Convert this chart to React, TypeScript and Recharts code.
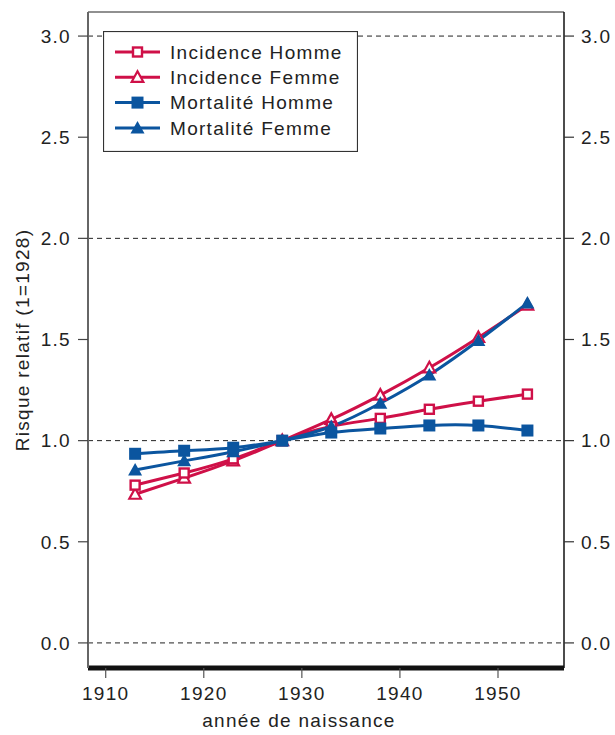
import React from "react";
import { LineChart, Line, XAxis, YAxis, ReferenceLine } from "recharts";

const years = [1913, 1918, 1923, 1928, 1933, 1938, 1943, 1948, 1953];
const incidenceHomme = [0.78, 0.84, 0.91, 1.0, 1.07, 1.11, 1.155, 1.195, 1.23];
const incidenceFemme = [0.735, 0.815, 0.9, 1.0, 1.105, 1.225, 1.36, 1.51, 1.67];
const mortaliteHomme = [0.935, 0.95, 0.965, 1.0, 1.04, 1.06, 1.075, 1.075, 1.05];
const mortaliteFemme = [0.855, 0.9, 0.945, 1.0, 1.07, 1.185, 1.325, 1.495, 1.68];

const xTicks = [1910, 1920, 1930, 1940, 1950];
const yTicks = [0, 0.5, 1, 1.5, 2, 2.5, 3];
const gridValues = [0, 1, 2, 3];
const xDomain = [1908.195, 1956.73];
const yDomain = [-0.124, 3.119];

const seriesLabels = ["Incidence Homme", "Incidence Femme", "Mortalité Homme", "Mortalité Femme"];

const RED = "#cf1048";
const BLUE = "#0b559f";
const FONT = "'Liberation Sans', Arial, Helvetica, sans-serif";
const FS = 19;
const LS = 1.3;

const data = years.map((y, i) => ({
  year: y,
  ih: incidenceHomme[i],
  if: incidenceFemme[i],
  mh: mortaliteHomme[i],
  mf: mortaliteFemme[i],
}));

type Shape = "openSquare" | "openTriangle" | "square" | "triangle";

function marker(shape: Shape, color: string, cx: number, cy: number, key?: any) {
  if (shape === "openSquare") {
    return <rect key={key} x={cx - 4.5} y={cy - 4.5} width={9} height={9} fill="#fff" stroke={color} strokeWidth={2.4} />;
  }
  if (shape === "openTriangle") {
    return (
      <polygon key={key} points={`${cx},${cy - 6} ${cx + 5.8},${cy + 4.5} ${cx - 5.8},${cy + 4.5}`} fill="#fff" stroke={color} strokeWidth={2.2} strokeLinejoin="miter" />
    );
  }
  if (shape === "square") {
    return <rect key={key} x={cx - 6} y={cy - 6} width={12} height={12} fill={color} />;
  }
  return <polygon key={key} points={`${cx},${cy - 7} ${cx + 7},${cy + 5.5} ${cx - 7},${cy + 5.5}`} fill={color} />;
}

const makeDot = (shape: Shape, color: string) => (props: any) => {
  const { cx, cy, index } = props;
  if (cx == null || cy == null) return <g key={index} />;
  return marker(shape, color, cx, cy, index);
};

const legendItems: { label: string; shape: Shape; color: string }[] = [
  { label: seriesLabels[0], shape: "openSquare", color: RED },
  { label: seriesLabels[1], shape: "openTriangle", color: RED },
  { label: seriesLabels[2], shape: "square", color: BLUE },
  { label: seriesLabels[3], shape: "triangle", color: BLUE },
];

const LegendBox = () => (
  <svg width={255} height={121} style={{ display: "block", position: "absolute", left: 103, top: 31 }}>
    <rect x={0.5} y={0.5} width={254} height={120} fill="#fff" stroke="#333" strokeWidth={1.2} />
    {legendItems.map((it, i) => {
      const cy = 21 + i * 25.3;
      return (
        <g key={it.label}>
          <line x1={12} x2={57} y1={cy} y2={cy} stroke={it.color} strokeWidth={3} />
          {marker(it.shape, it.color, 34.5, cy)}
          <text x={67} y={cy} dy="0.36em" fontSize={FS} letterSpacing={LS} fill="#222" fontFamily={FONT}>
            {it.label}
          </text>
        </g>
      );
    })}
  </svg>
);

const YLabel = (props: any) => {
  const vb = props.viewBox || { x: 0, y: 0, width: 0, height: 0 };
  const x = vb.x + 14;
  const y = vb.y + vb.height / 2;
  return (
    <text x={x} y={y} transform={`rotate(-90, ${x}, ${y})`} textAnchor="middle" dominantBaseline="central" fontSize={FS} letterSpacing={LS} fill="#222" fontFamily={FONT}>
      Risque relatif (1=1928)
    </text>
  );
};

const XLabel = (props: any) => {
  const vb = props.viewBox || { x: 0, y: 0, width: 0, height: 0 };
  const x = vb.x + 211;
  const y = vb.y + 52;
  return (
    <text x={x} y={y} textAnchor="middle" dominantBaseline="central" fontSize={FS} letterSpacing={LS} fill="#222" fontFamily={FONT}>
      année de naissance
    </text>
  );
};

const tickStyle = { fontSize: FS, fill: "#222", fontFamily: FONT, letterSpacing: LS };

export default function App() {
  return (
    <div style={{ width: 615, height: 735, position: "relative", fontFamily: FONT, overflow: "hidden" }}>
      <style>{`html, body { margin: 0; padding: 0; overflow: hidden; }`}</style>
      <LineChart width={615} height={735} data={data} margin={{ top: 12, right: 0, bottom: 0, left: 8 }}>
        <XAxis
          dataKey="year"
          type="number"
          domain={xDomain}
          ticks={xTicks}
          allowDataOverflow
          height={67}
          axisLine={{ stroke: "#111", strokeWidth: 5 }}
          tickLine={{ stroke: "#555", strokeWidth: 1.2 }}
          tickSize={10}
          tickMargin={9}
          tick={tickStyle}
          label={<XLabel />}
        />
        <YAxis
          yAxisId="left"
          orientation="left"
          type="number"
          domain={yDomain}
          ticks={yTicks}
          allowDataOverflow
          width={80}
          axisLine={{ stroke: "#666", strokeWidth: 2 }}
          tickLine={{ stroke: "#444", strokeWidth: 1.2 }}
          tickSize={10}
          tickMargin={7}
          tick={tickStyle}
          tickFormatter={(v: number) => v.toFixed(1)}
          label={<YLabel />}
        />
        <YAxis
          yAxisId="right"
          orientation="right"
          type="number"
          domain={yDomain}
          ticks={yTicks}
          allowDataOverflow
          width={51}
          axisLine={{ stroke: "#111", strokeWidth: 1.5 }}
          tickLine={{ stroke: "#333", strokeWidth: 1.2 }}
          tickSize={10}
          tickMargin={7}
          tick={{ ...tickStyle, textAnchor: "start" }}
          tickFormatter={(v: number) => v.toFixed(1)}
        />
        {gridValues.map((g) => (
          <ReferenceLine key={g} yAxisId="left" y={g} stroke="#222" strokeWidth={1} strokeDasharray="5 4" />
        ))}
        <ReferenceLine yAxisId="left" y={yDomain[1]} stroke="#222" strokeWidth={1.2} />
        <Line yAxisId="left" dataKey="if" type="natural" stroke={RED} strokeWidth={3} dot={makeDot("openTriangle", RED)} isAnimationActive={false} />
        <Line yAxisId="left" dataKey="ih" type="natural" stroke={RED} strokeWidth={3} dot={makeDot("openSquare", RED)} isAnimationActive={false} />
        <Line yAxisId="left" dataKey="mf" type="natural" stroke={BLUE} strokeWidth={3} dot={makeDot("triangle", BLUE)} isAnimationActive={false} />
        <Line yAxisId="left" dataKey="mh" type="natural" stroke={BLUE} strokeWidth={3} dot={makeDot("square", BLUE)} isAnimationActive={false} />
      </LineChart>
      <LegendBox />
    </div>
  );
}
